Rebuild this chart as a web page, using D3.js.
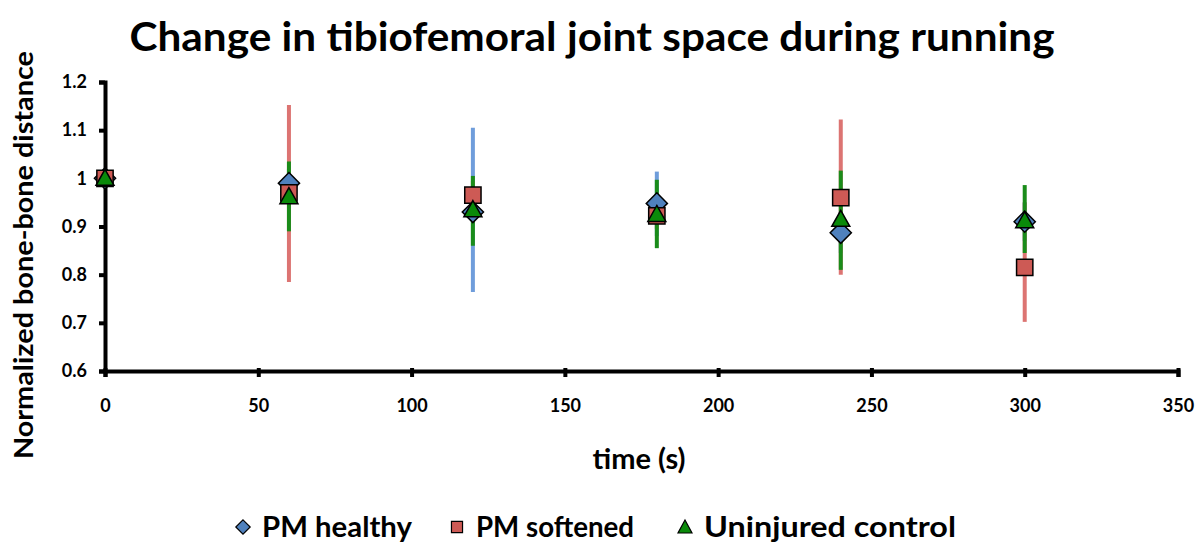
<!DOCTYPE html>
<html>
<head>
<meta charset="utf-8">
<script src="https://cdn.jsdelivr.net/npm/d3@7"></script>
<style>
  body { margin: 0; background: #fff; }
  text { font-family: "Lato", "Open Sans", sans-serif; font-weight: bold; fill: #000; }
</style>
</head>
<body>
<div id="chart"></div>
<script>
// time points (s)
const times = [0, 60, 120, 180, 240, 300];

// series names
const seriesNames = ["PM healthy", "PM softened", "Uninjured control"];

// mean normalized distances
const healthyMean = [1.0, 0.99, 0.93, 0.948, 0.887, 0.91];
const softenedMean = [1.0, 0.97, 0.965, 0.922, 0.96, 0.815];
const controlMean = [1.0, 0.962, 0.935, 0.925, 0.915, 0.912];

// error bar extents (upper / lower values)
const healthyHi = [1.0, 1.02, 1.105, 1.014, 0.93, 0.95];
const healthyLo = [1.0, 0.96, 0.764, 0.88, 0.845, 0.87];
const softenedHi = [1.0, 1.152, 0.995, 0.95, 1.122, 0.95];
const softenedLo = [1.0, 0.785, 0.935, 0.895, 0.80, 0.702];
const controlHi = [1.0, 1.035, 1.005, 0.997, 1.016, 0.986];
const controlLo = [1.0, 0.89, 0.86, 0.855, 0.81, 0.845];

const xTicks = [0, 50, 100, 150, 200, 250, 300, 350];
const yTicks = [0.6, 0.7, 0.8, 0.9, 1.0, 1.1, 1.2];

const width = 1200;
const height = 547;

const series = [
  { name: seriesNames[0], mean: healthyMean, hi: healthyHi, lo: healthyLo, shape: "diamond", fill: "#4f81bd", bar: "#6f9ddb" },
  { name: seriesNames[1], mean: softenedMean, hi: softenedHi, lo: softenedLo, shape: "square", fill: "#cd5a55", bar: "#dc7472" },
  { name: seriesNames[2], mean: controlMean, hi: controlHi, lo: controlLo, shape: "triangle", fill: "#0a8a0a", bar: "#1a8c1a" }
];

const xScale = d3.scaleLinear().domain([0, 350]).range([105, 1178]);
const yScale = d3.scaleLinear().domain([0.6, 1.2]).range([371, 82]);

const svg = d3.select("#chart").append("svg")
  .attr("width", width)
  .attr("height", height);

// title
svg.append("text")
  .attr("x", 592)
  .attr("y", 51)
  .attr("text-anchor", "middle")
  .attr("textLength", 925)
  .attr("lengthAdjust", "spacingAndGlyphs")
  .style("font-size", "40px")
  .text("Change in tibiofemoral joint space during running");

// axes
const yAxis = d3.axisLeft(yScale)
  .tickValues(yTicks)
  .tickFormat(d => d === 1 ? "1" : d3.format(".1f")(d))
  .tickSize(6)
  .tickPadding(12);

const xAxis = d3.axisBottom(xScale)
  .tickValues(xTicks)
  .tickSize(6)
  .tickPadding(22);

const gy = svg.append("g")
  .attr("transform", `translate(${xScale(0)},0)`)
  .call(yAxis);

const gx = svg.append("g")
  .attr("transform", `translate(0,${yScale(0.6)})`)
  .call(xAxis);

[gx, gy].forEach(g => {
  g.select(".domain").attr("stroke", "#000").attr("stroke-width", 4);
  g.selectAll(".tick line").attr("stroke", "#000").attr("stroke-width", 4);
  g.selectAll(".tick text").style("font-size", "18px").style("font-family", "Lato, sans-serif").style("font-weight", "bold");
});
gx.selectAll(".tick line").attr("y1", -3);

// axis titles
svg.append("text")
  .attr("x", 639)
  .attr("y", 469)
  .attr("text-anchor", "middle")
  .style("font-size", "29px")
  .text("time (s)");

svg.append("text")
  .attr("transform", "translate(33,255) rotate(-90)")
  .attr("text-anchor", "middle")
  .attr("textLength", 408)
  .attr("lengthAdjust", "spacingAndGlyphs")
  .style("font-size", "27px")
  .text("Normalized bone-bone distance");

// error bars
const bars = svg.append("g");
series.forEach(s => {
  bars.selectAll(null)
    .data(times.map((t, i) => ({ t, hi: s.hi[i], lo: s.lo[i] })).filter(d => d.hi !== d.lo))
    .enter()
    .append("line")
    .attr("x1", d => xScale(d.t))
    .attr("x2", d => xScale(d.t))
    .attr("y1", d => yScale(d.hi))
    .attr("y2", d => yScale(d.lo))
    .attr("stroke", s.bar)
    .attr("stroke-width", 4);
});

function markerPath(shape, size) {
  if (shape === "diamond") return d3.symbol(d3.symbolDiamond2, size * 1.1)();
  if (shape === "square") return d3.symbol(d3.symbolSquare2, size * 1.3)();
  return `M0,-9L9,7L-9,7Z`;
}

// markers
const marks = svg.append("g");
series.forEach(s => {
  marks.selectAll(null)
    .data(times.map((t, i) => ({ t, v: s.mean[i] })))
    .enter()
    .append("path")
    .attr("d", markerPath(s.shape, 260))
    .attr("transform", d => `translate(${xScale(d.t)},${yScale(d.v)})`)
    .attr("fill", s.fill)
    .attr("stroke", "#000")
    .attr("stroke-width", 1.5);
});

// legend
const legendX = [243, 457, 685];
const legendW = [150, 158, 252];
const legend = svg.append("g");
series.forEach((s, i) => {
  const g = legend.append("g").attr("transform", `translate(${legendX[i]},527)`);
  g.append("path")
    .attr("d", s.shape === "triangle" ? "M0,-7L7,6L-7,6Z" : markerPath(s.shape, 120))
    .attr("fill", s.fill)
    .attr("stroke", "#000")
    .attr("stroke-width", 1.2);
  g.append("text")
    .attr("x", 19)
    .attr("y", 10)
    .attr("textLength", legendW[i])
    .attr("lengthAdjust", "spacingAndGlyphs")
    .style("font-size", "28px")
    .text(s.name);
});
</script>
</body>
</html>
